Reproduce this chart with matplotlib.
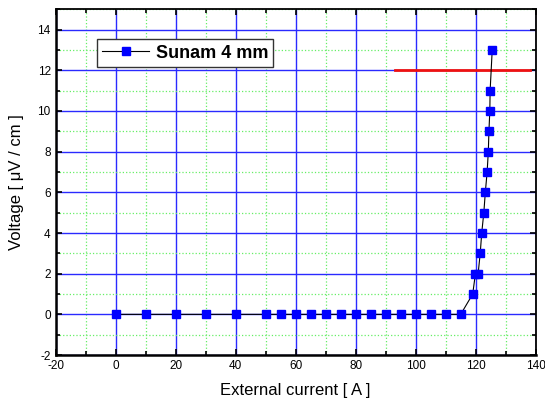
import matplotlib
matplotlib.use('Agg')
import matplotlib.pyplot as plt
from matplotlib.ticker import MultipleLocator

plt.rcParams['font.family'] = ['Liberation Sans', 'DejaVu Sans']
plt.rcParams['axes.unicode_minus'] = False

# measured points (current in A, voltage in uV/cm)
current = [0, 10, 20, 30, 40, 50, 55, 60, 65, 70, 75, 80, 85, 90, 95, 100,
           105, 110, 115, 119, 119.9, 120.8, 121.5, 122, 122.7, 123.2,
           123.8, 124.2, 124.4, 124.7, 124.8, 125.5]
voltage = [0, 0, 0, 0, 0, 0, 0, 0, 0, 0, 0, 0, 0, 0, 0, 0,
           0, 0, 0, 1, 2, 2, 3, 4, 5, 6,
           7, 8, 9, 10, 11, 13]
series_label = 'Sunam 4 mm'

# criterion line
crit_x = [93, 138]
crit_y = [12, 12]

fig = plt.figure(figsize=(5.45, 4.03), dpi=100)
ax = fig.add_axes([0.102, 0.119, 0.881, 0.858])

ax.set_xlim(-20, 140)
ax.set_ylim(-2, 15)
ax.xaxis.set_major_locator(MultipleLocator(20))
ax.xaxis.set_minor_locator(MultipleLocator(10))
ax.yaxis.set_major_locator(MultipleLocator(2))
ax.yaxis.set_minor_locator(MultipleLocator(1))
ax.set_yticks(range(-2, 15, 2))

ax.grid(which='major', color='#2a2aff', linewidth=1.0, linestyle='-')
ax.grid(which='minor', color='#66ee66', linewidth=0.9, linestyle=':')
ax.set_axisbelow(True)

ax.tick_params(which='both', direction='in', top=True, right=True,
               labelsize=8.5, width=1.2)
ax.tick_params(which='major', length=4)
ax.tick_params(which='minor', length=3)
for side in ax.spines.values():
    side.set_linewidth(1.3)
ax.spines['left'].set_linewidth(1.8)
ax.spines['bottom'].set_linewidth(1.8)

ax.plot(crit_x, crit_y, color='#ee1111', linewidth=2, zorder=3)
ax.plot(current, voltage, color='black', linewidth=0.8, marker='s',
        markersize=6, markerfacecolor='#0000ff', markeredgecolor='#0000ff',
        label=series_label, zorder=4)

leg = ax.legend(loc='upper left', bbox_to_anchor=(0.086, 0.913),
                prop={'weight': 'bold', 'size': 13}, fancybox=False,
                framealpha=1, edgecolor='#333333', borderpad=0.3,
                borderaxespad=0, handlelength=2.6, handletextpad=0.35)
leg.get_frame().set_linewidth(1.0)

ax.set_xlabel('External current [ A ]', fontsize=12, labelpad=8)
ax.set_ylabel('Voltage [ \u03bcV / cm ]', fontsize=12, labelpad=10)

fig.savefig('out.png', dpi=100)
